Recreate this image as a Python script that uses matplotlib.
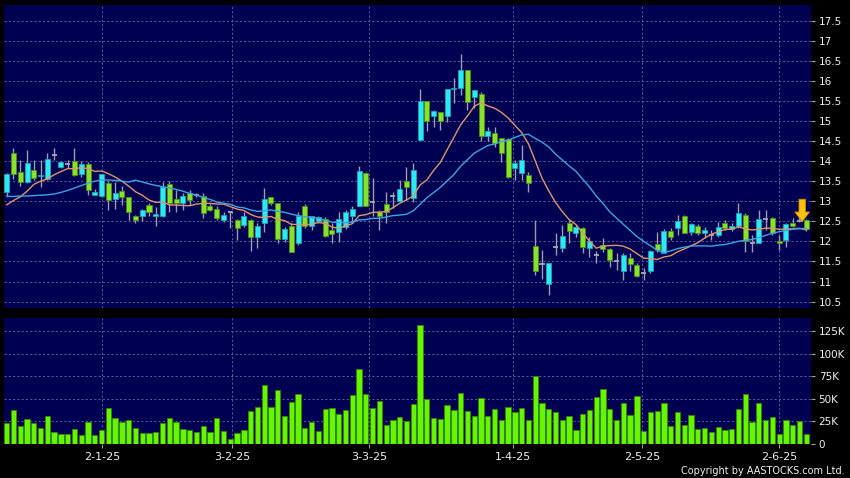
import numpy as np
import matplotlib
matplotlib.use('Agg')
import matplotlib.pyplot as plt

# ---------------- data ----------------
opens = [13.24, 14.19, 13.74, 13.49, 13.77, 13.62, 13.55, 14.14, 13.85, 13.93,
         14.01, 13.67, 13.93, 13.16, 13.12, 13.45, 13.06, 13.26, 13.10, 12.63,
         12.63, 12.91, 12.63, 12.62, 13.43, 13.05, 12.95, 13.20, 13.16, 13.14,
         12.88, 12.80, 12.53, 12.72, 12.53, 12.41, 12.53, 12.12, 12.45, 13.11,
         12.95, 12.05, 12.38, 11.95, 12.88, 12.38, 12.52, 12.55, 12.28, 12.24,
         12.37, 12.62, 12.89, 13.70, 12.97, 12.74, 12.93, 13.12, 13.01, 13.51,
         13.07, 14.53, 15.51, 15.13, 15.22, 15.13, 15.80, 15.81, 16.27, 15.61,
         15.67, 14.63, 14.69, 14.57, 14.54, 13.82, 13.71, 13.65, 11.89, 11.44,
         10.94, 11.87, 11.83, 12.45, 12.22, 12.33, 11.83, 11.66, 11.91, 11.80,
         11.52, 11.25, 11.58, 11.41, 11.20, 11.25, 11.93, 11.72, 12.27, 12.33,
         12.64, 12.24, 12.39, 12.20, 12.16, 12.16, 12.45, 12.30, 12.39, 12.66,
         11.95, 11.97, 12.56, 12.58, 12.02, 12.03, 12.47, 12.52, 12.53]
highs = [13.70, 14.33, 14.03, 14.28, 14.03, 14.03, 14.21, 14.33, 14.00, 14.02,
         14.32, 14.00, 13.97, 13.30, 13.68, 13.50, 13.47, 13.37, 13.10, 12.66,
         12.80, 12.95, 12.85, 13.49, 13.51, 13.28, 13.20, 13.28, 13.20, 13.20,
         12.92, 12.87, 12.74, 12.75, 12.57, 12.74, 12.55, 12.45, 13.32, 13.11,
         12.95, 12.37, 12.45, 12.74, 12.93, 12.64, 12.62, 12.60, 12.45, 12.74,
         12.78, 12.87, 13.88, 13.72, 13.57, 12.78, 13.24, 13.24, 13.53, 13.86,
         13.95, 15.79, 15.51, 15.28, 15.22, 15.79, 16.06, 16.67, 16.27, 15.76,
         15.73, 14.86, 14.86, 14.57, 14.57, 14.03, 14.40, 13.74, 12.53, 11.79,
         11.45, 12.20, 12.41, 12.53, 12.41, 12.35, 12.10, 11.77, 12.08, 11.83,
         11.70, 11.70, 11.70, 11.45, 11.33, 11.78, 12.24, 12.30, 12.33, 12.66,
         12.66, 12.47, 12.43, 12.37, 12.29, 12.49, 12.53, 12.45, 12.95, 12.70,
         12.16, 12.77, 12.78, 12.60, 12.16, 12.45, 12.58, 12.60, 12.56]
lows = [13.12, 13.55, 13.37, 13.45, 13.53, 13.36, 13.52, 14.03, 13.83, 13.83,
        13.64, 13.60, 13.16, 13.15, 13.10, 12.78, 12.80, 12.91, 12.54, 12.46,
        12.50, 12.62, 12.38, 12.60, 12.74, 12.74, 12.78, 12.91, 13.10, 12.58,
        12.75, 12.53, 12.49, 12.33, 12.04, 12.37, 11.75, 11.83, 12.24, 12.90,
        11.95, 11.99, 11.74, 11.91, 12.33, 12.28, 12.45, 12.12, 11.95, 11.99,
        12.30, 12.45, 12.87, 12.87, 12.62, 12.28, 12.45, 12.82, 12.99, 13.03,
        12.99, 14.53, 14.74, 14.86, 14.78, 14.98, 15.44, 15.65, 15.27, 15.32,
        14.49, 14.49, 14.36, 13.99, 13.57, 13.53, 13.53, 13.24, 11.16, 11.06,
        10.67, 11.66, 11.74, 11.95, 12.10, 11.70, 11.62, 11.45, 11.74, 11.37,
        11.29, 11.04, 11.25, 11.12, 11.04, 11.20, 11.74, 11.70, 12.04, 12.16,
        12.20, 12.16, 12.16, 12.08, 12.04, 12.12, 12.29, 12.25, 12.33, 11.74,
        11.74, 11.95, 12.29, 12.16, 11.79, 11.85, 12.35, 12.48, 12.26]
closes = [13.68, 13.68, 13.49, 13.95, 13.58, 13.66, 14.05, 14.14, 13.97, 13.93,
          13.66, 13.93, 13.28, 13.24, 13.67, 13.02, 13.20, 13.10, 12.74, 12.54,
          12.78, 12.74, 12.68, 13.35, 12.95, 12.95, 13.12, 13.03, 13.16, 12.70,
          12.79, 12.58, 12.66, 12.72, 12.33, 12.62, 12.12, 12.39, 13.05, 12.95,
          12.05, 12.30, 11.74, 12.64, 12.38, 12.62, 12.60, 12.14, 12.18, 12.55,
          12.74, 12.80, 13.76, 12.89, 12.97, 12.64, 12.74, 13.12, 13.30, 13.35,
          13.78, 15.51, 15.00, 15.25, 15.00, 15.79, 15.83, 16.27, 15.47, 15.76,
          14.63, 14.75, 14.44, 14.21, 13.61, 13.95, 14.03, 13.45, 11.25, 11.44,
          11.45, 11.87, 12.14, 12.27, 12.35, 11.85, 12.02, 11.66, 11.80, 11.54,
          11.52, 11.66, 11.43, 11.14, 11.20, 11.76, 11.79, 12.27, 12.12, 12.52,
          12.22, 12.44, 12.22, 12.28, 12.16, 12.37, 12.33, 12.39, 12.70, 12.02,
          11.95, 12.55, 12.56, 12.20, 11.95, 12.43, 12.39, 12.52, 12.31]
volumes_k = [22.9, 37.6, 19.9, 27.7, 23.2, 17.7, 30.6, 12.9, 11.4, 11.4,
             16.6, 9.6, 24.7, 9.9, 15.5, 39.8, 28.4, 24.7, 26.2, 17.7,
             11.8, 11.8, 13.6, 23.2, 29.1, 24.3, 17.0, 15.9, 13.6, 19.9,
             13.6, 28.4, 14.0, 5.2, 11.8, 15.5, 36.5, 41.3, 64.9, 41.3,
             59.7, 31.0, 46.8, 55.0, 18.0, 24.7, 14.8, 38.4, 39.5, 33.6,
             37.6, 54.6, 82.6, 55.3, 39.5, 47.2, 21.4, 26.5, 29.5, 25.1,
             43.9, 131.6, 49.4, 29.1, 28.0, 42.8, 38.0, 56.0, 36.9, 30.6,
             50.9, 31.0, 39.0, 26.2, 40.6, 35.8, 39.8, 26.2, 74.9, 45.6,
             39.0, 35.0, 26.5, 31.0, 15.9, 33.2, 37.6, 51.6, 60.5, 38.4,
             26.5, 45.4, 32.1, 52.7, 14.8, 35.0, 36.5, 45.0, 19.5, 35.0,
             21.4, 32.1, 17.0, 17.3, 13.3, 19.2, 15.5, 16.2, 38.4, 55.3,
             24.7, 45.0, 26.5, 29.5, 11.0, 26.2, 20.6, 25.4, 11.4]
# moving-average values before enough history exists
ma10_head = [12.91, 13.02, 13.11, 13.25, 13.42, 13.50, 13.56, 13.66, 13.74]
ma20_head = [13.12, 13.12, 13.13, 13.13, 13.14, 13.15, 13.16, 13.18, 13.22, 13.27,
             13.33, 13.39, 13.45, 13.50, 13.53, 13.53, 13.52, 13.50, 13.48]

date_labels = ['2-1-25', '3-2-25', '3-3-25', '1-4-25', '2-5-25', '2-6-25']
date_tick_pos = [14.06, 33.25, 53.5, 74.72, 93.76, 114.0]
price_ticks = [10.5, 11, 11.5, 12, 12.5, 13, 13.5, 14, 14.5, 15, 15.5, 16, 16.5, 17, 17.5]
vol_ticks_k = [0, 25, 50, 75, 100, 125]
copyright_text = 'Copyright by AASTOCKS.com Ltd.'


def moving_average(vals, n, head):
    out = list(head)
    for i in range(len(head), len(vals)):
        out.append(float(np.mean(vals[i - n + 1:i + 1])))
    return out


ma10 = moving_average(closes, 10, ma10_head)
ma20 = moving_average(closes, 20, ma20_head)

# ---------------- styling ----------------
NAVY = '#000052'
GRID = '#5a5a96'
CYAN = '#2ee8f2'
CYAN_EDGE = '#17a6b8'
LIME = '#86e22a'
LIME_EDGE = '#4c9212'
WICK = '#9c9cae'
DOJI = '#a8a8b4'
VOL = '#66f400'
VOL_EDGE = '#2f8a00'
TXT = '#f0f0f0'
W, H = 850, 478

plt.rcParams['font.family'] = ['DejaVu Sans']

fig = plt.figure(figsize=(8.5, 4.78), dpi=100, facecolor='black')
axp = fig.add_axes([4 / W, 1 - 308 / H, 807 / W, 303 / H])
axv = fig.add_axes([4 / W, 1 - 444 / H, 807 / W, 126 / H])

n = len(closes)
x = np.arange(n)
o = np.array(opens); c = np.array(closes); hi = np.array(highs); lo = np.array(lows)

for ax in (axp, axv):
    ax.set_facecolor(NAVY)
    for s in ax.spines.values():
        s.set_visible(False)
    ax.set_xlim(-0.4, 118.7)
    ax.set_xticks(date_tick_pos)
    ax.grid(True, color=GRID, linestyle=(0, (2.2, 2.2)), linewidth=0.7)
    ax.set_axisbelow(True)
    ax.yaxis.tick_right()
    ax.tick_params(axis='y', colors='#a0a0a0', labelcolor=TXT, length=3, width=0.8,
                   pad=2.5, labelsize=7.5)

# ---- price panel ----
axp.set_ylim(10.34, 17.89)
axp.set_yticks(price_ticks)
axp.set_yticklabels([f'{v:g}' for v in price_ticks])
axp.tick_params(axis='x', bottom=False, labelbottom=False)

axp.vlines(x, lo, hi, color=WICK, linewidth=1.0, zorder=2)
up = c > o
down = c < o
doji = c == o
bw = 0.74
axp.bar(x[up], (c - o)[up], bottom=o[up], width=bw, color=CYAN, edgecolor=CYAN_EDGE,
        linewidth=0.6, zorder=3)
axp.bar(x[down], (o - c)[down], bottom=c[down], width=bw, color=LIME, edgecolor=LIME_EDGE,
        linewidth=0.6, zorder=3)
axp.hlines(c[doji], x[doji] - bw / 2, x[doji] + bw / 2, color=DOJI, linewidth=1.3, zorder=3)

axp.plot(x, ma10, color='#e0946a', linewidth=1.0, zorder=4)
axp.plot(x, ma20, color='#3fa2e2', linewidth=1.0, zorder=4)

# marker arrow above the latest bars
axp.annotate('', xy=(117.4, 12.49), xytext=(117.4, 13.05),
             arrowprops=dict(arrowstyle='simple,head_length=0.5,head_width=0.75,tail_width=0.33',
                             mutation_scale=14, fc='#f6c40c', ec='#d08a00', lw=0.6,
                             shrinkA=0, shrinkB=0), zorder=6)

# ---- volume panel ----
axv.set_ylim(0, 139.4)
axv.set_yticks(vol_ticks_k)
axv.set_yticklabels(['0'] + [f'{v}K' for v in vol_ticks_k[1:]])
axv.bar(x, volumes_k, width=0.78, color=VOL, edgecolor=VOL_EDGE, linewidth=0.6, zorder=3)
axv.set_xticklabels(date_labels)
axv.tick_params(axis='x', colors='#a0a0a0', labelcolor=TXT, length=3, width=0.8,
                pad=2.5, labelsize=8)

fig.text(845 / W, 1 - 471 / H, copyright_text, ha='right', va='center',
         color=TXT, fontsize=7)

fig.savefig('out.png', dpi=100, facecolor='black')
